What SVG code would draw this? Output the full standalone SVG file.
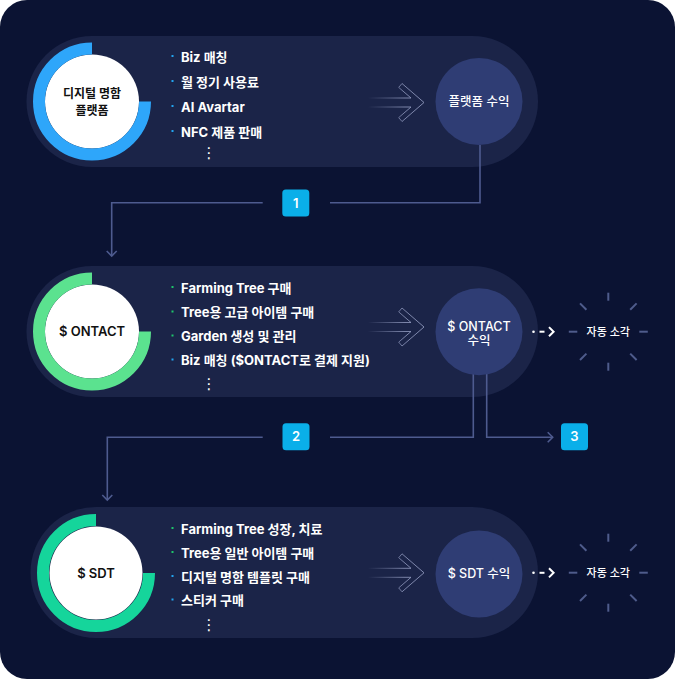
<svg xmlns="http://www.w3.org/2000/svg" xmlns:xlink="http://www.w3.org/1999/xlink" width="675" height="679" viewBox="0 0 675 679">
  <style>
    text { font-family: 'Inter', 'Noto Sans CJK KR', sans-serif; }
    .band { fill: #1b2448; }
    .core { fill: #ffffff; }
    .ctext { fill: #111111; font-size: 12px; font-weight: 600; text-anchor: middle; }
    .ctext13 { fill: #111111; font-size: 13px; font-weight: 600; text-anchor: middle; }
    .item { fill: #ffffff; font-size: 13px; font-weight: 700; }
    .more { fill: #ffffff; font-size: 15px; font-family: 'DejaVu Sans', sans-serif; text-anchor: middle; }
    .bb { fill: #22a4f0; }
    .bg { fill: #1ec46b; }
    .rev { fill: #2f3d74; }
    .rtext { fill: #ffffff; font-size: 12.5px; font-weight: 500; text-anchor: middle; }
    .burnt { fill: #ffffff; font-size: 11px; font-weight: 500; text-anchor: middle; }
    .conn { fill: none; stroke: #4e5b8f; stroke-width: 1.6; }
    .badge { fill: #0aafe9; }
    .btext { fill: #ffffff; font-size: 13px; font-weight: 600; text-anchor: middle; }
    .ray { stroke: #4f5c8c; stroke-width: 2; }
    .dash { fill: none; stroke: #ffffff; stroke-width: 2; }
  </style>
  <defs>
    <linearGradient id="fade" x1="0" y1="0" x2="1" y2="0">
      <stop offset="0" stop-color="#9aa3c8" stop-opacity="0"/>
      <stop offset="0.65" stop-color="#9aa3c8" stop-opacity="0.75"/>
      <stop offset="1" stop-color="#9aa3c8" stop-opacity="0.8"/>
    </linearGradient>
    <marker id="arr" markerUnits="userSpaceOnUse" markerWidth="12" markerHeight="12" viewBox="0 0 12 12" refX="10" refY="6" orient="auto">
      <path d="M5,1 L10,6 L5,11" fill="none" stroke="#4e5b8f" stroke-width="1.6"/>
    </marker>
    <g id="flow">
      <path d="M368,-4.5 H411 L398.7,-15.1 L402,-19 L424,0 L402,19 L398.7,15.1 L411,4.5 H368" fill="none" stroke="url(#fade)" stroke-width="1"/>
    </g>
    <g id="burst">
      <line class="ray" x1="0" y1="-39" x2="0" y2="-31"/>
      <line class="ray" x1="0" y1="31" x2="0" y2="39"/>
      <line class="ray" x1="-39.5" y1="0" x2="-31" y2="0"/>
      <line class="ray" x1="31" y1="0" x2="39.5" y2="0"/>
      <line class="ray" x1="-28.3" y1="-28.3" x2="-21.9" y2="-21.9"/>
      <line class="ray" x1="28.3" y1="-28.3" x2="21.9" y2="-21.9"/>
      <line class="ray" x1="-28.3" y1="28.3" x2="-21.9" y2="21.9"/>
      <line class="ray" x1="28.3" y1="28.3" x2="21.9" y2="21.9"/>
    </g>
    <g id="dotarrow">
      <circle cx="533.5" cy="0" r="1.3" fill="#ffffff"/>
      <line class="dash" x1="539.5" y1="0" x2="544.5" y2="0"/>
      <polyline class="dash" points="549,-4.6 553.6,0 549,4.6"/>
    </g>
  </defs>

  <rect x="0" y="0" width="675" height="679" rx="27" fill="#0b1333"/>

  <g id="row-platform">
    <rect class="band" x="26.5" y="36" width="511.5" height="131" rx="65.5"/>
    <use xlink:href="#flow" transform="translate(0,102.5)"/>
  </g>
  <g id="row-ontact">
    <rect class="band" x="26.5" y="266" width="511.5" height="131" rx="65.5"/>
    <use xlink:href="#flow" transform="translate(0,327)"/>
  </g>
  <g id="row-sdt">
    <rect class="band" x="30.5" y="507" width="507.5" height="131" rx="65.5"/>
    <use xlink:href="#flow" transform="translate(0,572.8)"/>
  </g>

  <g id="connectors">
    <path class="conn" d="M480,145 V202.7 H330"/>
    <path class="conn" d="M262.7,202.7 H111.7 V256" marker-end="url(#arr)"/>
    <path class="conn" d="M473.3,374 V437.3 H330"/>
    <path class="conn" d="M262.7,437.3 H107.3 V500" marker-end="url(#arr)"/>
    <path class="conn" d="M486.7,374 V437.3 H552.7" marker-end="url(#arr)"/>
    <use xlink:href="#dotarrow" transform="translate(0,331.7)"/>
    <use xlink:href="#dotarrow" transform="translate(0,572.8)"/>
  </g>

  <g id="node-platform">
    <circle class="core" cx="92" cy="101.5" r="47"/>
    <path d="M92,48.5 A53,53 0 1 0 145,101.5" fill="none" stroke="#2ea6fa" stroke-width="12"/>
    <text class="ctext" x="92" y="97.5">디지털 명함</text>
    <text class="ctext" x="92" y="114.5">플랫폼</text>
  </g>
  <g id="list-platform">
    <rect class="bb" x="171.5" y="55" width="2" height="2"/>
    <rect class="bb" x="171.5" y="80" width="2" height="2"/>
    <rect class="bb" x="171.5" y="105" width="2" height="2"/>
    <rect class="bb" x="171.5" y="130" width="2" height="2"/>
    <text class="item" x="181" y="62">Biz 매칭</text>
    <text class="item" x="181" y="87">월 정기 사용료</text>
    <text class="item" x="181" y="112">AI Avartar</text>
    <text class="item" x="181" y="137">NFC 제품 판매</text>
    <text class="more" x="209" y="158">⋮</text>
  </g>
  <g id="node-platform-revenue">
    <circle class="rev" cx="479" cy="101.5" r="43.5"/>
    <text class="rtext" x="479" y="106">플랫폼 수익</text>
  </g>

  <g id="node-ontact">
    <circle class="core" cx="92" cy="331.5" r="47"/>
    <path d="M92,278.5 A53,53 0 1 0 145,331.5" fill="none" stroke="#5be28f" stroke-width="12"/>
    <text class="ctext13" x="92" y="336.3">$ ONTACT</text>
  </g>
  <g id="list-ontact">
    <rect class="bg" x="171.5" y="286" width="2" height="2"/>
    <rect class="bg" x="171.5" y="310.5" width="2" height="2"/>
    <rect class="bg" x="171.5" y="334.5" width="2" height="2"/>
    <rect class="bb" x="171.5" y="358.5" width="2" height="2"/>
    <text class="item" x="181" y="293">Farming Tree 구매</text>
    <text class="item" x="181" y="317.3">Tree용 고급 아이템 구매</text>
    <text class="item" x="181" y="341.3">Garden 생성 및 관리</text>
    <text class="item" x="181" y="365.3">Biz 매칭 ($ONTACT로 결제 지원)</text>
    <text class="more" x="209" y="388.5">⋮</text>
  </g>
  <g id="node-ontact-revenue">
    <circle class="rev" cx="479" cy="331.7" r="43.5"/>
    <text class="rtext" x="479" y="331.3">$ ONTACT</text>
    <text class="rtext" x="479" y="345.3">수익</text>
  </g>
  <g id="node-ontact-burn">
    <use xlink:href="#burst" transform="translate(608.3,331.7)"/>
    <text class="burnt" x="608.3" y="335.7">자동 소각</text>
  </g>

  <g id="node-sdt">
    <circle class="core" cx="96" cy="573" r="46.5"/>
    <path d="M96,520 A53,53 0 1 0 149,573" fill="none" stroke="#15d59b" stroke-width="12"/>
    <text class="ctext13" x="96" y="577.5">$ SDT</text>
  </g>
  <g id="list-sdt">
    <rect class="bg" x="171.5" y="527" width="2" height="2"/>
    <rect class="bg" x="171.5" y="551" width="2" height="2"/>
    <rect class="bb" x="171.5" y="575" width="2" height="2"/>
    <rect class="bb" x="171.5" y="598.5" width="2" height="2"/>
    <text class="item" x="181" y="534">Farming Tree 성장, 치료</text>
    <text class="item" x="181" y="558">Tree용 일반 아이템 구매</text>
    <text class="item" x="181" y="582">디지털 명함 템플릿 구매</text>
    <text class="item" x="181" y="605.3">스티커 구매</text>
    <text class="more" x="209" y="629.5">⋮</text>
  </g>
  <g id="node-sdt-revenue">
    <circle class="rev" cx="479" cy="574" r="43.5"/>
    <text class="rtext" x="479" y="578">$ SDT 수익</text>
  </g>
  <g id="node-sdt-burn">
    <use xlink:href="#burst" transform="translate(608.3,572.7)"/>
    <text class="burnt" x="608.3" y="576.7">자동 소각</text>
  </g>

  <g id="badges">
    <g id="badge-1">
      <rect class="badge" x="282.3" y="189.5" width="27" height="27" rx="3.5"/>
      <text class="btext" x="295.8" y="207.6">1</text>
    </g>
    <g id="badge-2">
      <rect class="badge" x="282.5" y="423.3" width="27" height="27" rx="3.5"/>
      <text class="btext" x="296" y="441.4">2</text>
    </g>
    <g id="badge-3">
      <rect class="badge" x="561" y="423.3" width="27" height="27" rx="3.5"/>
      <text class="btext" x="574.5" y="441.4">3</text>
    </g>
  </g>
</svg>
